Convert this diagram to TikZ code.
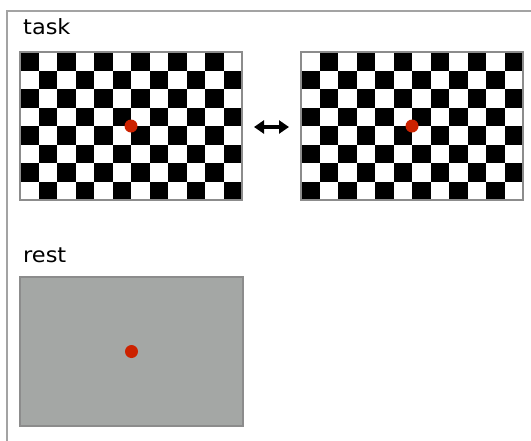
\documentclass[tikz,border=0pt]{standalone}
\usepackage{fontspec}
\setmainfont{DejaVu Sans}
\usetikzlibrary{arrows.meta}
\definecolor{framegray}{HTML}{A3A3A3}
\definecolor{boardgray}{HTML}{8C8C8C}
\definecolor{restgray}{HTML}{A4A7A5}
\definecolor{dotred}{HTML}{CC2200}
\begin{document}
\begin{tikzpicture}[x=1pt,y=-1pt,
  frame/.style={draw=framegray,line width=1.5pt},
  board/.style={draw=boardgray,line width=1.3pt,minimum width=222pt,minimum height=148pt,inner sep=0pt,outer sep=0pt},
  restboard/.style={board,fill=restgray,minimum width=223pt,minimum height=149pt},
  fixdot/.style={circle,fill=dotred,minimum size=13pt,inner sep=0pt},
  lbl/.style={font=\fontsize{21}{24}\selectfont,inner sep=0pt,anchor=base west},
  swap/.style={{Triangle[length=10pt,width=13pt]}-{Triangle[length=10pt,width=13pt]},line width=3.2pt}
]
\useasboundingbox (0,0) rectangle (531,440);
\begin{scope}
  \clip (0,0) rectangle (531,440);
  \draw[frame] (7,11) rectangle (560,470);
\end{scope}
% checkerboards
\foreach \i in {0,...,11}{
  \foreach \j in {0,...,7}{
    \pgfmathtruncatemacro\p{mod(\i+\j,2)}
    \ifnum\p=0
      \fill[black] ({20+18.5*\i},{52+18.5*\j}) rectangle +(18.5,18.5);
    \else
      \fill[black] ({301+18.5*\i},{52+18.5*\j}) rectangle +(18.5,18.5);
    \fi
  }
}
\node[board] (b1) at (131,126) {};
\node[board] (b2) at (412,126) {};
\node[restboard] (r) at (131.5,351.5) {};
\node[fixdot] (d1) at (b1.center) {};
\node[fixdot] (d2) at (b2.center) {};
\node[fixdot] (d3) at (r.center) {};
\node[lbl] (task) at (23,34.7) {\scalebox{1.07}[1]{task}};
\node[lbl] (rest) at (23,262) {\scalebox{1.07}[1]{rest}};
\coordinate (al) at (254,127);
\coordinate (ar) at (289,127);
\draw[swap] (al) -- (ar);
\end{tikzpicture}
\end{document}
